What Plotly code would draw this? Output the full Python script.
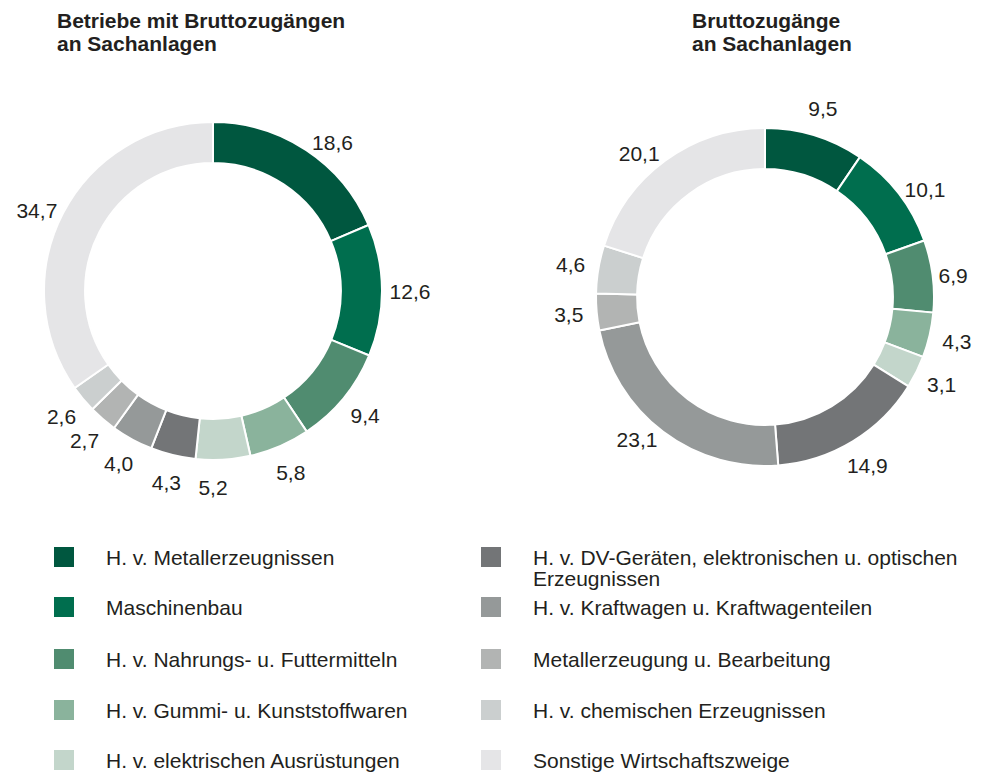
import plotly.graph_objects as go

categories = [
    "H. v. Metallerzeugnissen",
    "Maschinenbau",
    "H. v. Nahrungs- u. Futtermitteln",
    "H. v. Gummi- u. Kunststoffwaren",
    "H. v. elektrischen Ausrüstungen",
    "H. v. DV-Geräten, elektronischen u. optischen Erzeugnissen",
    "H. v. Kraftwagen u. Kraftwagenteilen",
    "Metallerzeugung u. Bearbeitung",
    "H. v. chemischen Erzeugnissen",
    "Sonstige Wirtschaftszweige",
]
legend_labels = [
    "H. v. Metallerzeugnissen",
    "Maschinenbau",
    "H. v. Nahrungs- u. Futtermitteln",
    "H. v. Gummi- u. Kunststoffwaren",
    "H. v. elektrischen Ausrüstungen",
    "H. v. DV-Geräten, elektronischen u. optischen<br>Erzeugnissen",
    "H. v. Kraftwagen u. Kraftwagenteilen",
    "Metallerzeugung u. Bearbeitung",
    "H. v. chemischen Erzeugnissen",
    "Sonstige Wirtschaftszweige",
]
betriebe = [18.6, 12.6, 9.4, 5.8, 5.2, 4.3, 4.0, 2.7, 2.6, 34.7]
zugaenge = [9.5, 10.1, 6.9, 4.3, 3.1, 14.9, 23.1, 3.5, 4.6, 20.1]
colors = ["#00573f", "#006e4e", "#508c70", "#8ab39c", "#c3d6cb",
          "#737577", "#959999", "#b2b4b3", "#cbcfcf", "#e5e5e7"]
title_lines = [["Betriebe mit Bruttozugängen", "an Sachanlagen"],
               ["Bruttozugänge", "an Sachanlagen"]]

# style: which value labels sit just outside the ring (others on a label ring)
outside_left = [True, False, False, False, False, False, False, False, False, True]
outside_right = [False, True, True, False, False, False, True, False, False, True]

W, H = 985, 773
FONT = "Liberation Sans, Arial, sans-serif"
TXT = "#231f20"
FS = 21


def px(x):
    return x / W


def py(y):
    return 1 - y / H


def fmt(v):
    return f"{v:.1f}".replace(".", ",")


def dom(cx, cy, r):
    return dict(x=[px(cx - r), px(cx + r)], y=[py(cy + r), py(cy - r)])


fig = go.Figure()
charts = [(betriebe, 213, 291, outside_left), (zugaenge, 765, 297, outside_right)]
for vals, cx, cy, outs in charts:
    labels_txt = [fmt(v) for v in vals]
    # donut ring
    fig.add_trace(go.Pie(
        labels=categories, values=vals, sort=False, direction="clockwise", rotation=0,
        hole=0.757, domain=dom(cx, cy, 169),
        marker=dict(colors=colors, line=dict(color="white", width=2)),
        text=labels_txt, textinfo="text",
        textposition=["outside" if o else "none" for o in outs],
        outsidetextfont=dict(family=FONT, size=FS, color=TXT),
        textfont=dict(family=FONT, size=FS, color=TXT),
        hoverinfo="label+value", showlegend=False,
    ))
    # transparent thin ring carrying the remaining value labels
    fig.add_trace(go.Pie(
        labels=categories, values=vals, sort=False, direction="clockwise", rotation=0,
        hole=0.922, domain=dom(cx, cy, 205),
        marker=dict(colors=["rgba(0,0,0,0)"] * len(vals), line=dict(width=0)),
        text=labels_txt, textinfo="text",
        textposition=["none" if o else "inside" for o in outs],
        insidetextorientation="horizontal",
        textfont=dict(family=FONT, size=FS, color=TXT),
        hoverinfo="skip", showlegend=False,
    ))

annotations = []
shapes = []
# titles
for lines, x0 in zip(title_lines, [55, 690]):
    for k, t in enumerate(lines):
        annotations.append(dict(text=f"<b>{t}</b>", x=px(x0), y=py(20 + 24 * k), xref="paper", yref="paper",
                                xanchor="left", yanchor="middle", align="left", showarrow=False,
                                font=dict(family=FONT, size=FS, color=TXT)))

# legend
row_y = [557, 607, 659, 710, 760]
for i, (lab, col) in enumerate(zip(legend_labels, colors)):
    c = i // 5
    r = i % 5
    sx = [54, 481][c]
    tx = [104, 531][c]
    yc = row_y[r]
    shapes.append(dict(type="rect", xref="paper", yref="paper",
                       x0=px(sx), x1=px(sx + 20), y0=py(yc + 10), y1=py(yc - 10),
                       fillcolor=col, line=dict(width=0)))
    for k, p in enumerate(lab.split("<br>")):
        annotations.append(dict(text=p, x=px(tx), y=py(yc + 21 * k), xref="paper", yref="paper",
                                xanchor="left", yanchor="middle", showarrow=False,
                                font=dict(family=FONT, size=FS, color=TXT)))

fig.update_layout(
    width=W, height=H, margin=dict(l=0, r=0, t=0, b=0),
    paper_bgcolor="white", plot_bgcolor="white",
    annotations=annotations, shapes=shapes,
    uniformtext=dict(minsize=FS, mode="show"),
    font=dict(family=FONT, color=TXT),
)
fig.write_html("out.html", config={"displayModeBar": False},
               post_script="document.body.style.margin='0px';")
